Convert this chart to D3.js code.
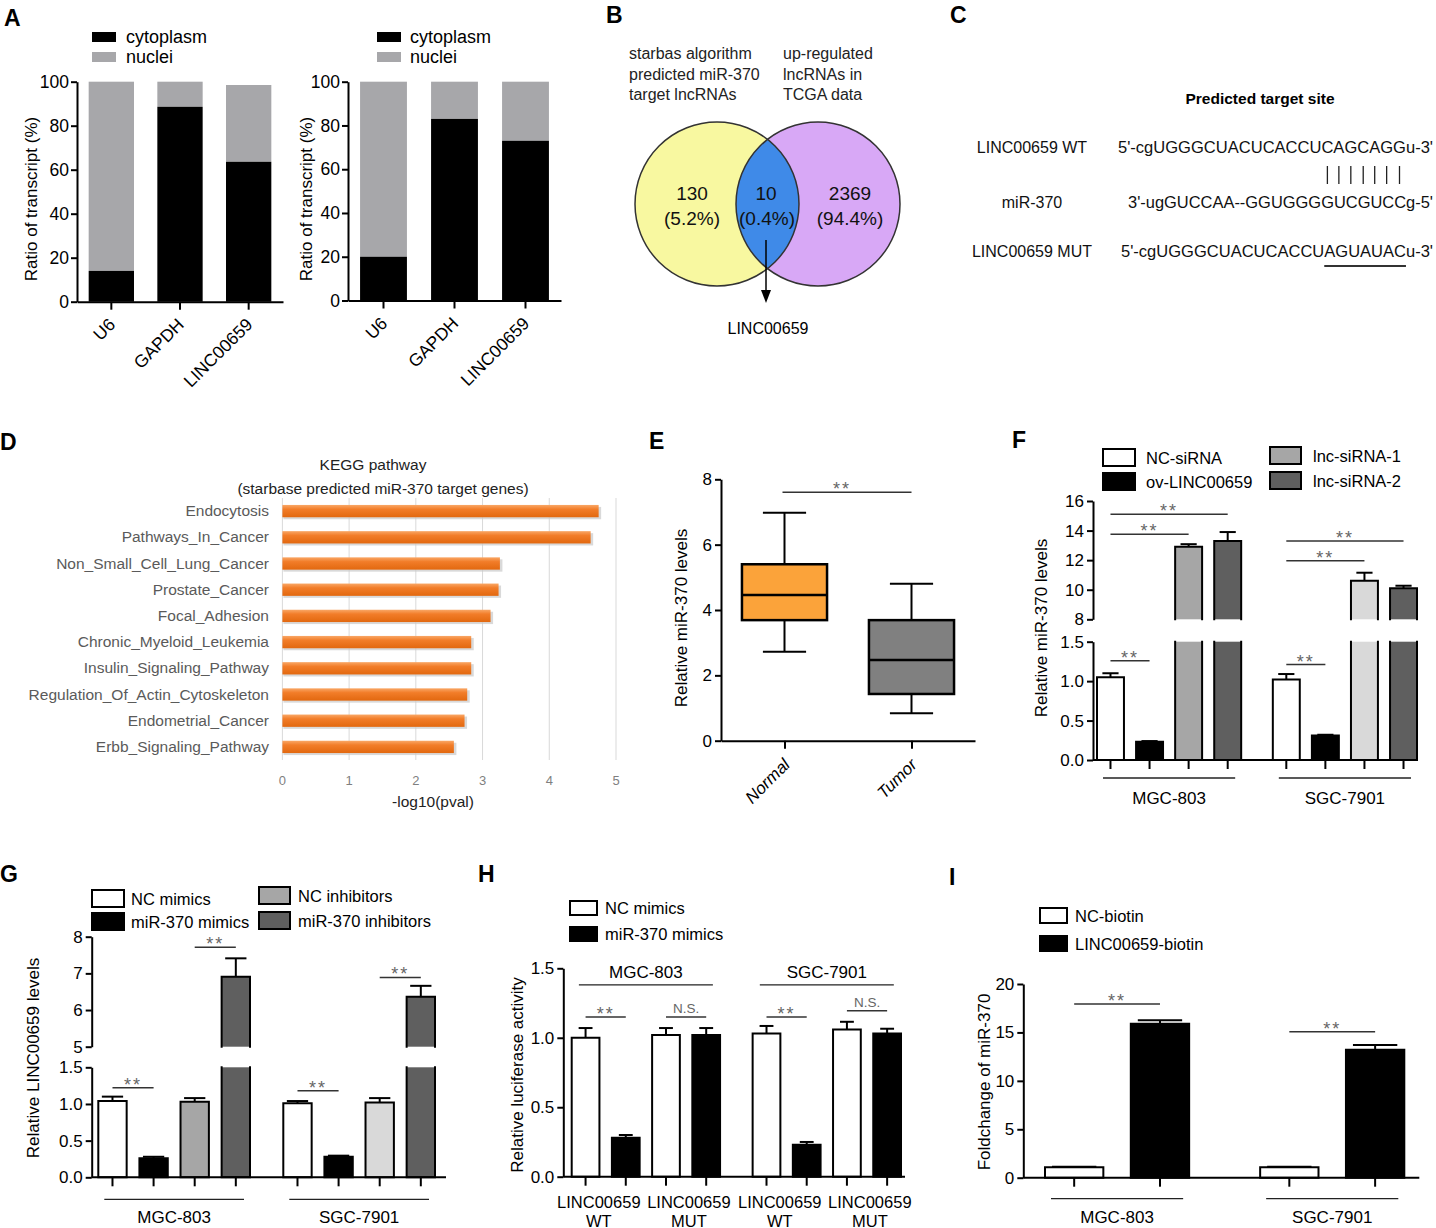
<!DOCTYPE html>
<html>
<head>
<meta charset="utf-8">
<script src="https://cdn.jsdelivr.net/npm/d3@7"></script>
<style>
  body { margin: 0; background: #fff; }
  svg { display: block; font-family: "Liberation Sans", Arial, Helvetica, sans-serif; }
</style>
</head>
<body>
<svg id="fig" width="1436" height="1228"></svg>
<script>
// ---- A: subcellular fractionation
const fracCats = ["U6", "GAPDH", "LINC00659"];
const fracSeries = ["cytoplasm", "nuclei"];
const fracFill = ["#000000", "#a7a7aa"];
const fracTicks = [0, 20, 40, 60, 80, 100];
const cytoLeft = [14, 88.6, 63.6];
const totalLeft = [100, 100, 98.5];
const cytoRight = [20, 83, 73];
const totalRight = [100, 100, 100];

// ---- B: venn
const vennNames = [["starbas algorithm", "predicted miR-370", "target lncRNAs"], ["up-regulated", "lncRNAs in", "TCGA data"]];
const vennCounts = [130, 10, 2369];
const vennPct = ["(5.2%)", "(0.4%)", "(94.4%)"];
const vennHit = "LINC00659";

// ---- C: target site
const siteRows = ["LINC00659 WT", "miR-370", "LINC00659 MUT"];
const siteSeqs = ["5'-cgUGGGCUACUCACCUCAGCAGGu-3'", "3'-ugGUCCAA--GGUGGGGUCGUCCg-5'", "5'-cgUGGGCUACUCACCUAGUAUACu-3'"];
const seedStart = 19, seedLen = 7;

// ---- D: KEGG
const keggTerms = ["Endocytosis", "Pathways_In_Cancer", "Non_Small_Cell_Lung_Cancer", "Prostate_Cancer", "Focal_Adhesion",
  "Chronic_Myeloid_Leukemia", "Insulin_Signaling_Pathway", "Regulation_Of_Actin_Cytoskeleton", "Endometrial_Cancer", "Erbb_Signaling_Pathway"];
const keggVals = [4.74, 4.62, 3.26, 3.24, 3.12, 2.83, 2.83, 2.77, 2.73, 2.57];
const keggTicks = [0, 1, 2, 3, 4, 5];

// ---- E: box plot
const boxGroups = ["Normal", "Tumor"];
const boxMin = [2.72, 0.84];
const boxQ1 = [3.69, 1.43];
const boxMed = [4.46, 2.47];
const boxQ3 = [5.4, 3.69];
const boxMax = [6.98, 4.8];
const boxFill = ["#fba33a", "#808080"];
const eTicks = [0, 2, 4, 6, 8];

// ---- shared
const cells = ["MGC-803", "SGC-7901"];

// ---- F
const fGroups = ["NC-siRNA", "ov-LINC00659", "lnc-siRNA-1", "lnc-siRNA-2"];
const fMeans = [[1.05, 0.23, 12.9, 13.3], [1.02, 0.31, 10.6, 10.1]];
const fErrs = [[0.05, 0.01, 0.18, 0.6], [0.07, 0.01, 0.55, 0.17]];
const fFills = [["#ffffff", "#000000", "#a6a6a6", "#5f5f5f"], ["#ffffff", "#000000", "#d9d9d9", "#5f5f5f"]];
const fLowTicks = [0, 0.5, 1, 1.5];
const fHighTicks = [8, 10, 12, 14, 16];
const fSig = [[0, 0, 3, 15.1, "**"], [0, 0, 2, 13.75, "**"], [1, 0, 3, 13.3, "**"], [1, 0, 2, 11.96, "**"], [0, 0, 1, 1.26, "**"], [1, 0, 1, 1.21, "**"]];

// ---- G
const gGroups = ["NC mimics", "miR-370 mimics", "NC inhibitors", "miR-370 inhibitors"];
const gMeans = [[1.04, 0.26, 1.03, 6.91], [1.01, 0.28, 1.02, 6.36]];
const gErrs = [[0.06, 0.02, 0.05, 0.5], [0.03, 0.015, 0.06, 0.3]];
const gFills = [["#ffffff", "#000000", "#a6a6a6", "#5f5f5f"], ["#ffffff", "#000000", "#d9d9d9", "#5f5f5f"]];
const gLowTicks = [0, 0.5, 1, 1.5];
const gHighTicks = [5, 6, 7, 8];
const gSig = [[0, 2, 3, 7.71, "**"], [1, 2, 3, 6.89, "**"], [0, 0, 1, 1.22, "**"], [1, 0, 1, 1.18, "**"]];

// ---- H
const hGroups = ["NC mimics", "miR-370 mimics"];
const hConstructs = [["LINC00659", "WT"], ["LINC00659", "MUT"]];
const hMeans = [[1.0, 0.28, 1.02, 1.02], [1.03, 0.23, 1.06, 1.03]];
const hErrs = [[0.07, 0.02, 0.05, 0.05], [0.055, 0.02, 0.055, 0.035]];
const hFills = [["#ffffff", "#000000", "#ffffff", "#000000"], ["#ffffff", "#000000", "#ffffff", "#000000"]];
const hTicks = [0, 0.5, 1, 1.5];
const hSig = [[0, 0, 1, 1.15, "**"], [0, 2, 3, 1.15, "N.S."], [1, 0, 1, 1.15, "**"], [1, 2, 3, 1.195, "N.S."]];
const hCellLine = 1.38;

// ---- I
const iGroups = ["NC-biotin", "LINC00659-biotin"];
const iMeans = [[1.07, 15.9], [1.07, 13.2]];
const iErrs = [[0.05, 0.35], [0.05, 0.5]];
const iFills = [["#ffffff", "#000000"], ["#ffffff", "#000000"]];
const iTicks = [0, 5, 10, 15, 20];
const iSig = [[0, 0, 1, 17.93, "**"], [1, 0, 1, 15.07, "**"]];

const svg = d3.select("#fig");

function styleAxis(g, fs, color) {
  g.attr("font-family", null).attr("font-size", null);
  g.selectAll("path, line").attr("stroke", color || "#000").attr("stroke-width", 2);
  g.selectAll("text").attr("font-size", fs).attr("fill", color || "#000");
  return g;
}
function panelLabel(t, x, y) {
  svg.append("text").attr("x", x).attr("y", y).attr("font-size", 23).attr("font-weight", "bold").text(t);
}
function yLabel(t, cx, cy, fs) {
  svg.append("text").attr("transform", `translate(${cx + 6},${cy}) rotate(-90)`)
    .attr("text-anchor", "middle").attr("font-size", fs || 17).text(t);
}
function legend(names, fills, x, ys, w, h, tx, fs, stroke) {
  names.forEach((n, i) => {
    svg.append("rect").attr("x", x).attr("y", ys[i]).attr("width", w).attr("height", h)
      .attr("fill", fills[i]).attr("stroke", stroke === false ? "none" : "#000").attr("stroke-width", 2);
    svg.append("text").attr("x", tx).attr("y", ys[i] + h / 2 + 6).attr("font-size", fs || 16.5).text(n);
  });
}
function sigText(g, x, yy, lab) {
  const star = lab === "**";
  g.append("text").attr("x", x).attr("y", star ? yy + 3 : yy - 4).attr("text-anchor", "middle")
    .attr("font-size", star ? 18 : 13.5).attr("letter-spacing", star ? 2 : 0).attr("fill", "#666").text(lab);
}

// ================= A =================
function fractionPanel(cyto, total, xr, yr) {
  const x = d3.scaleBand().domain(fracCats).range(xr).paddingInner(0.34).paddingOuter(0.17);
  const y = d3.scaleLinear().domain([0, 100]).range(yr);
  const g = svg.append("g");
  g.selectAll("rect.nuc").data(fracCats).join("rect").attr("class", "nuc")
    .attr("x", d => x(d)).attr("width", x.bandwidth())
    .attr("y", (d, i) => y(total[i])).attr("height", (d, i) => y(cyto[i]) - y(total[i]))
    .attr("fill", fracFill[1]);
  g.selectAll("rect.cyt").data(fracCats).join("rect").attr("class", "cyt")
    .attr("x", d => x(d)).attr("width", x.bandwidth())
    .attr("y", (d, i) => y(cyto[i])).attr("height", (d, i) => y(0) - y(cyto[i]))
    .attr("fill", fracFill[0]);
  styleAxis(g.append("g").attr("transform", `translate(${xr[0]},0)`)
    .call(d3.axisLeft(y).tickValues(fracTicks).tickSize(6).tickPadding(2).tickSizeOuter(0)), 17.5);
  const xa = styleAxis(g.append("g").attr("transform", `translate(0,${yr[0]})`)
    .call(d3.axisBottom(x).tickSize(8).tickSizeOuter(0)), 17.5);
  xa.selectAll("text").attr("y", 0).attr("dy", 0).attr("transform", "translate(5,24) rotate(-45)").attr("text-anchor", "end");
}
panelLabel("A", 4, 26);
fractionPanel(cytoLeft, totalLeft, [77, 283], [301.7, 81.7]);
fractionPanel(cytoRight, totalRight, [348, 561], [300.5, 81.7]);
legend(fracSeries, fracFill, 92, [32, 52], 24, 10, 126, 18, false);
legend(fracSeries, fracFill, 377, [32, 52], 24, 10, 410, 18, false);
yLabel("Ratio of transcript (%)", 31, 199);
yLabel("Ratio of transcript (%)", 306, 199);

// ================= B =================
panelLabel("B", 606, 23);
[629, 783].forEach((tx, k) => {
  vennNames[k].forEach((line, i) => {
    svg.append("text").attr("x", tx).attr("y", 59 + i * 20.5).attr("font-size", 16).attr("fill", "#222").text(line);
  });
});
const vr = 82, vcy = 204, vc = [717, 818];
svg.append("defs").html(`<clipPath id="lensClip"><circle cx="${vc[0]}" cy="${vcy}" r="${vr}"/></clipPath>
  <linearGradient id="og" x1="0" y1="0" x2="0" y2="1">
    <stop offset="0" stop-color="#f9a766"/><stop offset="0.35" stop-color="#f27d29"/><stop offset="1" stop-color="#e2680f"/>
  </linearGradient>`);
svg.append("circle").attr("cx", vc[0]).attr("cy", vcy).attr("r", vr).attr("fill", "#f8f8a0");
svg.append("circle").attr("cx", vc[1]).attr("cy", vcy).attr("r", vr).attr("fill", "#d8a8f6");
svg.append("circle").attr("cx", vc[1]).attr("cy", vcy).attr("r", vr).attr("fill", "#3f8ae8").attr("clip-path", "url(#lensClip)");
vc.forEach(c => svg.append("circle").attr("cx", c).attr("cy", vcy).attr("r", vr).attr("fill", "none").attr("stroke", "#333").attr("stroke-width", 1.5));
const vx = [692, 766, 850];
vennCounts.forEach((n, i) => {
  svg.append("text").attr("x", vx[i]).attr("y", 200).attr("text-anchor", "middle").attr("font-size", 19).attr("fill", "#111").text(n);
  svg.append("text").attr("x", vx[i] + (i === 1 ? 1 : 0)).attr("y", 225).attr("text-anchor", "middle").attr("font-size", 19).attr("fill", "#111").text(vennPct[i]);
});
svg.append("line").attr("x1", 766).attr("x2", 766).attr("y1", 240).attr("y2", 293).attr("stroke", "#000").attr("stroke-width", 1.5);
svg.append("path").attr("d", "M761,290 L771,290 L766,303 Z").attr("fill", "#000");
svg.append("text").attr("x", 768).attr("y", 334).attr("text-anchor", "middle").attr("font-size", 16).text(vennHit);

// ================= C =================
panelLabel("C", 950, 23);
svg.append("text").attr("x", 1260).attr("y", 104).attr("text-anchor", "middle").attr("font-size", 15.5).attr("font-weight", "bold").text("Predicted target site");
const rowY = [153, 208, 257];
const seqX = [1118, 1128, 1121];
const seqLen = [315, 305, 312];
const seqNodes = [];
siteRows.forEach((r, i) => {
  svg.append("text").attr("x", 1032).attr("y", rowY[i]).attr("text-anchor", "middle").attr("font-size", 16).attr("fill", "#111").text(r);
  seqNodes.push(svg.append("text").attr("x", seqX[i]).attr("y", rowY[i]).attr("font-size", 16.5)
    .attr("textLength", seqLen[i]).attr("lengthAdjust", "spacingAndGlyphs").attr("fill", "#111").text(siteSeqs[i]).node());
});
for (let k = seedStart; k < seedStart + seedLen; k++) {
  const e = seqNodes[0].getExtentOfChar(k);
  svg.append("line").attr("x1", e.x + e.width / 2).attr("x2", e.x + e.width / 2).attr("y1", 166).attr("y2", 184).attr("stroke", "#222").attr("stroke-width", 1.3);
}
{
  const a = seqNodes[2].getExtentOfChar(seedStart), b = seqNodes[2].getExtentOfChar(seedStart + seedLen - 1);
  svg.append("line").attr("x1", a.x).attr("x2", b.x + b.width).attr("y1", 266).attr("y2", 266).attr("stroke", "#333").attr("stroke-width", 2);
}

// ================= D =================
panelLabel("D", 0, 450);
svg.append("text").attr("x", 373).attr("y", 470).attr("text-anchor", "middle").attr("font-size", 15.5).attr("fill", "#222").text("KEGG pathway");
svg.append("text").attr("x", 383).attr("y", 494).attr("text-anchor", "middle").attr("font-size", 15.5).attr("fill", "#222").text("(starbase predicted miR-370 target genes)");
{
  const x = d3.scaleLinear().domain([0, 5]).range([282.4, 616]);
  const y = d3.scaleBand().domain(keggTerms).range([498, 760]).paddingInner(0.53).paddingOuter(0.265);
  const g = svg.append("g");
  g.selectAll("line.grid").data(keggTicks).join("line").attr("class", "grid")
    .attr("x1", d => x(d)).attr("x2", d => x(d)).attr("y1", 498).attr("y2", 760)
    .attr("stroke", "#d9d9d9").attr("stroke-width", 1);
  g.selectAll("rect.sh").data(keggTerms).join("rect").attr("class", "sh")
    .attr("x", x(0) + 1).attr("y", d => y(d) + 2).attr("width", (d, i) => x(keggVals[i]) - x(0) + 1.5)
    .attr("height", y.bandwidth()).attr("fill", "#c9c9c9").attr("opacity", 0.7);
  g.selectAll("rect.bar").data(keggTerms).join("rect").attr("class", "bar")
    .attr("x", x(0)).attr("y", d => y(d)).attr("width", (d, i) => x(keggVals[i]) - x(0))
    .attr("height", y.bandwidth()).attr("fill", "url(#og)");
  g.selectAll("text.term").data(keggTerms).join("text").attr("class", "term")
    .attr("x", 269).attr("y", d => y(d) + y.bandwidth() / 2 + 5).attr("text-anchor", "end")
    .attr("font-size", 15.5).attr("fill", "#5a5a5a").text(d => d);
  g.selectAll("text.tick").data(keggTicks).join("text").attr("class", "tick")
    .attr("x", d => x(d)).attr("y", 785).attr("text-anchor", "middle").attr("font-size", 13).attr("fill", "#7f7f7f").text(d => d);
  svg.append("text").attr("x", 433).attr("y", 807).attr("text-anchor", "middle").attr("font-size", 15.5).attr("fill", "#222").text("-log10(pval)");
}

// ================= E =================
panelLabel("E", 649, 449);
{
  const y = d3.scaleLinear().domain([0, 8]).range([740.7, 479.3]);
  const x = d3.scalePoint().domain(boxGroups).range([721, 975]).padding(0.5);
  const bw = x.step() * 0.67, cw = x.step() * 0.34;
  const g = svg.append("g");
  boxGroups.forEach((d, i) => {
    const cx = x(d);
    g.append("line").attr("x1", cx).attr("x2", cx).attr("y1", y(boxMin[i])).attr("y2", y(boxMax[i])).attr("stroke", "#000").attr("stroke-width", 2);
    [boxMin[i], boxMax[i]].forEach(v => g.append("line").attr("x1", cx - cw / 2).attr("x2", cx + cw / 2).attr("y1", y(v)).attr("y2", y(v)).attr("stroke", "#000").attr("stroke-width", 2));
    g.append("rect").attr("x", cx - bw / 2).attr("width", bw).attr("y", y(boxQ3[i])).attr("height", y(boxQ1[i]) - y(boxQ3[i]))
      .attr("fill", boxFill[i]).attr("stroke", "#000").attr("stroke-width", 2.5);
    g.append("line").attr("x1", cx - bw / 2).attr("x2", cx + bw / 2).attr("y1", y(boxMed[i])).attr("y2", y(boxMed[i])).attr("stroke", "#000").attr("stroke-width", 2.5);
  });
  styleAxis(g.append("g").attr("transform", "translate(721,0)")
    .call(d3.axisLeft(y).tickValues(eTicks).tickSize(6).tickPadding(3).tickSizeOuter(0)), 17);
  const xa = styleAxis(g.append("g").attr("transform", `translate(0,${y(0)})`)
    .call(d3.axisBottom(x).tickSize(8).tickSizeOuter(0)), 17);
  xa.selectAll("text").attr("y", 0).attr("dy", 0).attr("transform", "translate(6,25) rotate(-45)")
    .attr("text-anchor", "end").attr("font-style", "italic");
  const sy = y(7.6);
  g.append("line").attr("x1", x(boxGroups[0]) - 2).attr("x2", x(boxGroups[1])).attr("y1", sy).attr("y2", sy).attr("stroke", "#333").attr("stroke-width", 1.5);
  sigText(g, 842, sy, "**");
  yLabel("Relative miR-370 levels", 681, 618);
}

// ================= grouped bars (F, G, H, I) =================
function barPanel(o) {
  const outer = d3.scaleBand().domain(cells).range(o.barRange).paddingInner(o.cellPad);
  const inner = d3.scaleBand().domain(d3.range(o.means[0].length)).range([0, outer.bandwidth()]).paddingInner(o.barPad);
  const segs = o.segments.map(s => Object.assign({}, s, { y: d3.scaleLinear().domain(s.domain).range(s.range) }));
  const y0 = segs[0].range[0];
  const bw = inner.bandwidth();
  const cx = (ci, j) => outer(cells[ci]) + inner(j) + bw / 2;
  const segOf = v => segs.find(s => v > s.domain[0] && v <= s.domain[1]) || segs[segs.length - 1];
  const g = svg.append("g");

  cells.forEach((c, ci) => o.means[ci].forEach((v, j) => {
    const x = outer(c) + inner(j);
    segs.forEach((s, si) => {
      if (v <= s.domain[0]) return;
      const ends = v <= s.domain[1];
      const top = Math.min(v, s.domain[1]);
      const yb = s.y(s.domain[0]), yt = s.y(top);
      g.append("rect").attr("x", x).attr("y", yt).attr("width", bw).attr("height", yb - yt).attr("fill", o.fills[ci][j]);
      let d = `M${x},${yb}V${yt}` + (ends ? `H${x + bw}` : `M${x + bw},${yt}`) + `V${yb}` + (si === 0 ? `H${x}` : "");
      g.append("path").attr("d", d).attr("fill", "none").attr("stroke", "#000").attr("stroke-width", 2).attr("stroke-linecap", "square");
    });
    const s = segOf(v), e = o.errs[ci][j];
    const xc = x + bw / 2, cap = bw * o.capFrac;
    g.append("line").attr("x1", xc).attr("x2", xc).attr("y1", s.y(v)).attr("y2", s.y(v + e)).attr("stroke", "#000").attr("stroke-width", 2);
    g.append("line").attr("x1", xc - cap / 2).attr("x2", xc + cap / 2).attr("y1", s.y(v + e)).attr("y2", s.y(v + e)).attr("stroke", "#000").attr("stroke-width", 2);
  }));

  segs.forEach(s => {
    styleAxis(g.append("g").attr("transform", `translate(${o.axisX},0)`)
      .call(d3.axisLeft(s.y).tickValues(s.ticks).tickFormat(d3.format(s.fmt)).tickSize(6).tickPadding(3).tickSizeOuter(0)), 17);
  });
  g.append("line").attr("x1", o.axisX).attr("x2", o.axisEnd).attr("y1", y0).attr("y2", y0).attr("stroke", "#000").attr("stroke-width", 2);
  cells.forEach((c, ci) => o.means[ci].forEach((v, j) => {
    g.append("line").attr("x1", cx(ci, j)).attr("x2", cx(ci, j)).attr("y1", y0).attr("y2", y0 + 9).attr("stroke", "#000").attr("stroke-width", 2);
  }));

  o.sig.forEach(([ci, a, b, v, lab]) => {
    const s = segOf(v), yy = s.y(v);
    const x1 = cx(ci, a), x2 = cx(ci, b);
    g.append("line").attr("x1", x1).attr("x2", x2).attr("y1", yy).attr("y2", yy).attr("stroke", "#333").attr("stroke-width", 1.5);
    sigText(g, (x1 + x2) / 2, yy, lab);
  });

  if (o.cellBelow) {
    cells.forEach(c => {
      const a = outer(c) + 6, b = outer(c) + outer.bandwidth() - 6;
      g.append("line").attr("x1", a).attr("x2", b).attr("y1", y0 + o.lineDy).attr("y2", y0 + o.lineDy).attr("stroke", "#222").attr("stroke-width", 1.3);
      g.append("text").attr("x", (a + b) / 2).attr("y", y0 + o.labelDy).attr("text-anchor", "middle").attr("font-size", 17).text(c);
    });
  }
  return { outer, inner, segs, cx, y0 };
}

// ================= F =================
panelLabel("F", 1012, 448);
legend(fGroups.slice(0, 2), fFills[0].slice(0, 2), 1103, [449, 473], 32, 17, 1146);
legend(fGroups.slice(2), fFills[0].slice(2), 1270, [447, 472], 31, 17, 1313);
barPanel({
  means: fMeans, errs: fErrs, fills: fFills, sig: fSig,
  barRange: [1097, 1417], cellPad: 0.18, barPad: 0.31, capFrac: 0.6,
  axisX: 1093, axisEnd: 1417,
  segments: [
    { domain: [0, 1.5], range: [760, 641.7], ticks: fLowTicks, fmt: ".1f" },
    { domain: [8, 16], range: [619.3, 501], ticks: fHighTicks, fmt: "d" }],
  cellBelow: true, lineDy: 18, labelDy: 44
});
yLabel("Relative miR-370 levels", 1041, 628);

// ================= G =================
panelLabel("G", 0, 882);
legend(gGroups.slice(0, 2), gFills[0].slice(0, 2), 92, [890, 913], 32, 17, 131);
legend(gGroups.slice(2), gFills[0].slice(2), 259, [887, 912], 31, 17, 298);
barPanel({
  means: gMeans, errs: gErrs, fills: gFills, sig: gSig,
  barRange: [98.3, 435], cellPad: 0.18, barPad: 0.31, capFrac: 0.75,
  axisX: 91.7, axisEnd: 446,
  segments: [
    { domain: [0, 1.5], range: [1177.3, 1067.3], ticks: gLowTicks, fmt: ".1f" },
    { domain: [5, 8], range: [1046.7, 936.7], ticks: gHighTicks, fmt: "d" }],
  cellBelow: true, lineDy: 22, labelDy: 46
});
yLabel("Relative LINC00659 levels", 33, 1058);

// ================= H =================
panelLabel("H", 478, 882);
legend(hGroups, hFills[0].slice(0, 2), 570, [901, 927], 27, 14, 605);
{
  const p = barPanel({
    means: hMeans, errs: hErrs, fills: hFills, sig: hSig,
    barRange: [571.7, 901], cellPad: 0.18, barPad: 0.31, capFrac: 0.5,
    axisX: 563.3, axisEnd: 905,
    segments: [{ domain: [0, 1.5], range: [1176.7, 968.3], ticks: hTicks, fmt: ".1f" }],
    cellBelow: false
  });
  const yl = p.segs[0].y(hCellLine);
  cells.forEach((c, ci) => {
    const mid = p.outer(c) + p.outer.bandwidth() / 2;
    svg.append("line").attr("x1", mid - 67).attr("x2", mid + 67).attr("y1", yl).attr("y2", yl).attr("stroke", "#222").attr("stroke-width", 1.3);
    svg.append("text").attr("x", mid).attr("y", yl - 7).attr("text-anchor", "middle").attr("font-size", 17).text(c);
    hConstructs.forEach((lab, k) => {
      const pc = (p.cx(ci, 2 * k) + p.cx(ci, 2 * k + 1)) / 2;
      const lx = mid + (pc - mid) * 1.12 - 2;
      lab.forEach((t, r) => svg.append("text").attr("x", lx).attr("y", 1208 + r * 18.5).attr("text-anchor", "middle").attr("font-size", 16.5).text(t));
    });
  });
  yLabel("Relative luciferase activity", 517, 1075);
}

// ================= I =================
panelLabel("I", 949, 885);
legend(iGroups, iFills[0], 1040, [908, 936], 27, 15, 1075);
barPanel({
  means: iMeans, errs: iErrs, fills: iFills, sig: iSig,
  barRange: [1045, 1404.3], cellPad: 0.33, barPad: 0.32, capFrac: 0.76,
  axisX: 1023.3, axisEnd: 1419.3,
  segments: [{ domain: [0, 20], range: [1177.7, 984], ticks: iTicks, fmt: "d" }],
  cellBelow: true, lineDy: 21, labelDy: 45
});
yLabel("Foldchange of miR-370", 984, 1082);
</script>
</body>
</html>
